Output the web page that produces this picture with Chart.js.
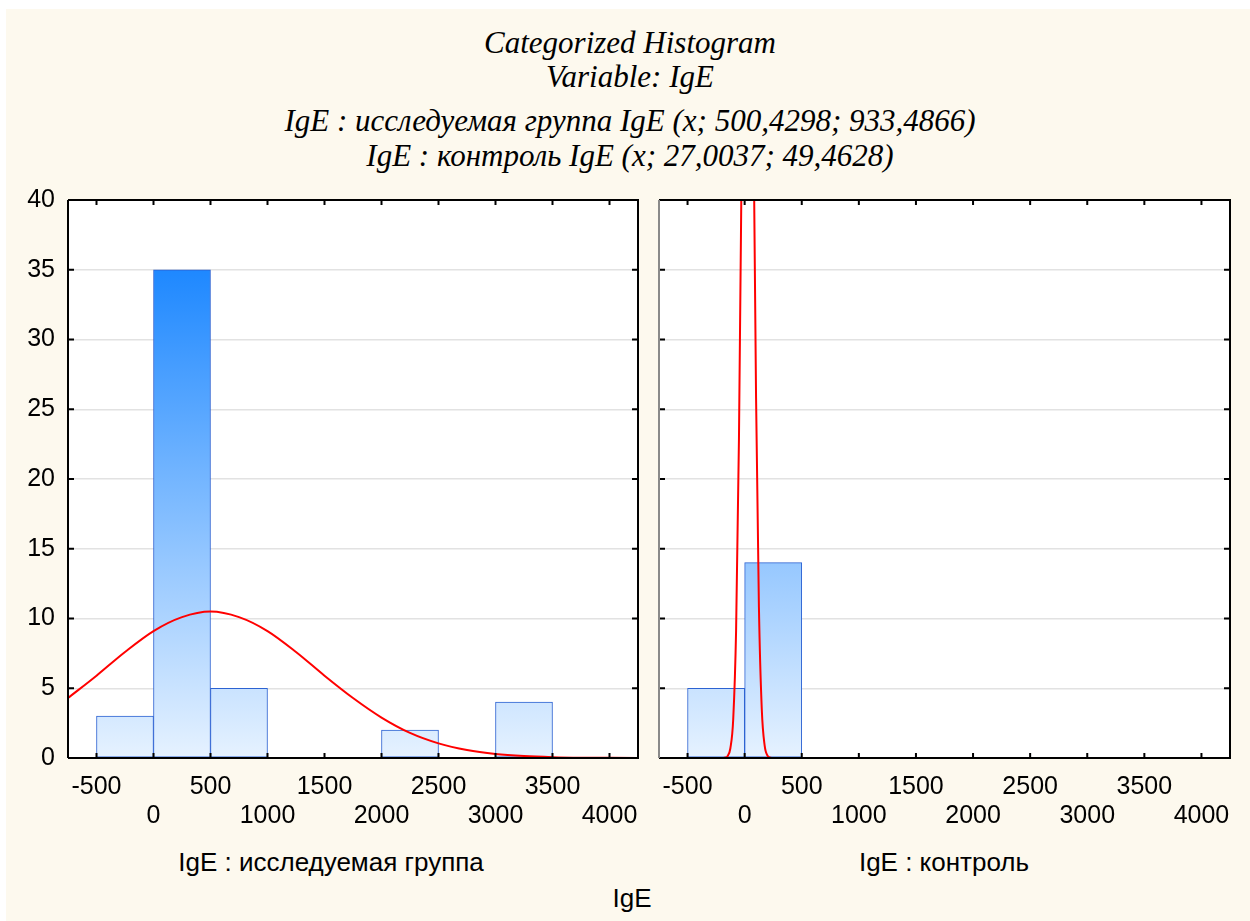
<!DOCTYPE html>
<html>
<head>
<meta charset="utf-8">
<script src="https://cdn.jsdelivr.net/npm/chart.js@4.4.0/dist/chart.umd.min.js"></script>
<style>
  body { margin: 0; width: 1250px; height: 921px; position: relative; overflow: hidden; background: #fff; }
  #paper { position: absolute; left: 6px; top: 9px; right: 0; bottom: 0; background: #fdf9ee; }
  .title { position: absolute; left: 0; width: 1260px; text-align: center; white-space: nowrap;
           font-family: 'Liberation Serif', 'Times New Roman', serif; font-style: italic; font-size: 31px; line-height: 32px; color: #000; }
  .axlab { position: absolute; transform: translate(-50%, -50%); white-space: nowrap;
           font-family: 'Liberation Sans', Arial, sans-serif; font-size: 26px; line-height: 30px; color: #000; }
  canvas { position: absolute; }
</style>
</head>
<body>
<div id="paper"></div>
<div class="title" style="top:27px">Categorized Histogram</div>
<div class="title" style="top:61px">Variable: IgE</div>
<div class="title" style="top:105px">IgE : исследуемая группа IgE (x; 500,4298; 933,4866)</div>
<div class="title" style="top:140px">IgE : контроль IgE (x; 27,0037; 49,4628)</div>

<canvas id="studyCanvas" width="650" height="660" style="left:0;top:180px"></canvas>
<canvas id="controlCanvas" width="600" height="660" style="left:650px;top:180px"></canvas>

<div class="axlab" style="left:331px;top:862px">IgE : исследуемая группа</div>
<div class="axlab" style="left:944px;top:862px">IgE : контроль</div>
<div class="axlab" style="left:632px;top:898px">IgE</div>

<script>
// --- data ---
const binLow = [-500, 0, 500, 1000, 1500, 2000, 2500, 3000, 3500]
const binWidth = 500
const studyCounts = [3, 35, 5, 0, 0, 2, 0, 4, 0]
const controlCounts = [5, 14, 0, 0, 0, 0, 0, 0, 0]

// fitted normal curves as drawn (x; y in counts)
const studyCurveX = [-750, -500, -250, 0, 250, 500, 750, 1000, 1250, 1500, 1750, 2000, 2250, 2500, 2750, 3000, 3250, 3500, 3750, 4000, 4250]
const studyCurveY = [4.3, 5.9, 7.6, 9.1, 10.1, 10.5, 10.1, 9.1, 7.6, 5.9, 4.3, 2.9, 1.8, 1.05, 0.57, 0.29, 0.14, 0.06, 0.02, 0.01, 0]
const controlCurveX = [-750, -200, -175, -150, -125, -100, -75, -50, -25, 0, 25, 50, 75, 100, 125, 150, 175, 200, 225, 250, 4250]
const controlCurveY = [0, 0, 0.02, 0.13, 0.7, 2.8, 9.1, 22.8, 44, 66, 76.5, 68.7, 47.8, 25.8, 10.8, 3.5, 0.9, 0.17, 0.03, 0, 0]

const xTicks = [-500, 0, 500, 1000, 1500, 2000, 2500, 3000, 3500, 4000]
const yTicks = [0, 5, 10, 15, 20, 25, 30, 35, 40]
const xRange = [-750, 4250]
const yRange = [0, 40]

const font = { family: "'Liberation Sans', Arial, sans-serif", size: 25, lineHeight: 1.18 }

// white plot area + black frame with inward tick marks
const framePlugin = {
  id: 'frame',
  beforeDraw(chart) {
    const { ctx, chartArea: a } = chart
    ctx.save()
    ctx.fillStyle = '#fff'
    ctx.fillRect(a.left, a.top, a.right - a.left, a.bottom - a.top)
    ctx.restore()
  },
  afterDatasetsDraw(chart, args, opts) {
    const { ctx, chartArea: a, scales: { x, y } } = chart
    ctx.save()
    ctx.lineWidth = 2
    ctx.strokeStyle = '#000'
    ctx.beginPath()
    xTicks.forEach(v => {
      const px = x.getPixelForValue(v)
      ctx.moveTo(px, a.bottom); ctx.lineTo(px, a.bottom - 5)
      ctx.moveTo(px, a.top); ctx.lineTo(px, a.top + 5)
    })
    yTicks.forEach(v => {
      const py = y.getPixelForValue(v)
      ctx.moveTo(a.left, py); ctx.lineTo(a.left + 6, py)
      ctx.moveTo(a.right, py); ctx.lineTo(a.right - 6, py)
    })
    ctx.stroke()

    ctx.beginPath()
    ctx.moveTo(a.left, a.bottom); ctx.lineTo(a.right, a.bottom)
    ctx.lineTo(a.right, a.top); ctx.lineTo(a.left, a.top)
    ctx.stroke()
    ctx.strokeStyle = opts.leftColor || '#000'
    ctx.beginPath()
    ctx.moveTo(a.left, a.top); ctx.lineTo(a.left, a.bottom)
    ctx.stroke()
    ctx.restore()
  }
}

function barGradient(c) {
  const { chart } = c
  if (!chart.chartArea) return '#cfe5ff'
  const y = chart.scales.y
  const g = chart.ctx.createLinearGradient(0, y.getPixelForValue(0), 0, y.getPixelForValue(35))
  g.addColorStop(0, '#e6f2ff')
  g.addColorStop(1, '#1e88ff')
  return g
}

function createPanel(canvas, counts, curveX, curveY, { yWidth, padRight, showY, leftColor }) {
  return new Chart(canvas.getContext('2d'), {
    type: 'bar',
    data: {
      datasets: [
        {
          type: 'line',
          data: curveX.map((v, i) => ({ x: v, y: curveY[i] })),
          borderColor: '#ff0000',
          borderWidth: 2,
          pointRadius: 0,
          cubicInterpolationMode: 'monotone',
          order: 0
        },
        {
          data: binLow.map((v, i) => ({ x: v + binWidth / 2, y: counts[i] })),
          backgroundColor: barGradient,
          borderColor: '#2c62d2',
          borderWidth: 1,
          borderSkipped: false,
          categoryPercentage: 1,
          barPercentage: 1,
          order: 1
        }
      ]
    },
    options: {
      responsive: false,
      animation: false,
      events: [],
      layout: { padding: { top: 20, right: padRight, bottom: 0, left: 0 } },
      plugins: { legend: { display: false }, tooltip: { enabled: false }, frame: { leftColor } },
      scales: {
        x: {
          type: 'linear',
          offset: false,
          min: xRange[0],
          max: xRange[1],
          afterBuildTicks: s => { s.ticks = xTicks.map(v => ({ value: v })) },
          afterFit: s => { s.height = 82; s.paddingLeft = 0; s.paddingRight = 0 },
          grid: { display: false, drawTicks: false },
          border: { display: false },
          ticks: {
            autoSkip: false,
            maxRotation: 0,
            minRotation: 0,
            padding: 14,
            color: '#000',
            font,
            callback: (v, i) => (i % 2 === 0 ? [String(v), ''] : ['', String(v)])
          }
        },
        y: {
          min: yRange[0],
          max: yRange[1],
          afterBuildTicks: s => { s.ticks = yTicks.map(v => ({ value: v })) },
          afterFit: s => { s.width = yWidth; s.paddingTop = 0; s.paddingBottom = 0 },
          grid: { color: '#e2e2e2', lineWidth: 1.5, drawTicks: false },
          border: { display: false },
          ticks: { display: showY, padding: 13, color: '#000', font }
        }
      }
    },
    plugins: [framePlugin]
  })
}

createPanel(document.getElementById('studyCanvas'), studyCounts, studyCurveX, studyCurveY,
  { yWidth: 68, padRight: 12, showY: true, leftColor: '#000' })
createPanel(document.getElementById('controlCanvas'), controlCounts, controlCurveX, controlCurveY,
  { yWidth: 9, padRight: 20, showY: false, leftColor: '#8a8a8a' })
</script>
</body>
</html>
